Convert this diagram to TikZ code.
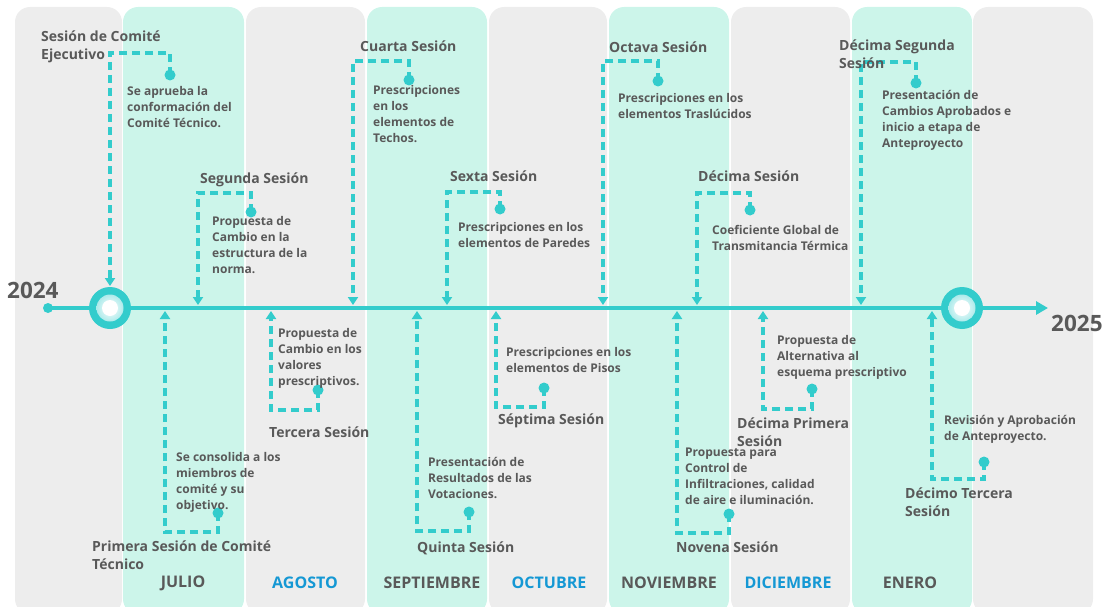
\documentclass[tikz,border=0pt]{standalone}
\usepackage{fontspec}
\setmainfont{Open Sans}
\usetikzlibrary{arrows.meta}

\definecolor{linea}{RGB}{51,204,204}
\definecolor{menta}{RGB}{204,245,234}
\definecolor{gris}{RGB}{237,237,237}
\definecolor{texto}{RGB}{89,89,89}
\definecolor{azul}{RGB}{21,152,212}

\tikzset{
  conector/.style={linea, line width=3.6pt, dash pattern=on 8pt off 5pt,
    -{Triangle[width=10pt,length=8pt]}},
  punto/.style={circle, fill=linea, minimum size=11pt, inner sep=0pt},
  titulo/.style={anchor=north west, inner sep=0pt, align=left, text=texto,
    font=\bfseries\fontsize{14}{17.5}\selectfont},
  detalle/.style={anchor=north west, inner sep=0pt, align=left, text=texto,
    font=\bfseries\fontsize{12}{16}\selectfont},
  mes/.style={inner sep=0pt, font=\bfseries\fontsize{16}{18}\selectfont},
  anio/.style={anchor=west, inner sep=0pt, text=texto,
    font=\bfseries\fontsize{22.5}{24}\selectfont},
}

\begin{document}
\begin{tikzpicture}[x=1pt,y=-1pt]
  \useasboundingbox (0,0) rectangle (1110,607);
  % columnas de meses
  \fill[gris,rounded corners=15pt] (15,7) rectangle (122,614);
  \fill[menta,rounded corners=15pt] (123,7) rectangle (244,614);
  \fill[gris,rounded corners=15pt] (246,7) rectangle (365,614);
  \fill[menta,rounded corners=15pt] (367,7) rectangle (487,614);
  \fill[gris,rounded corners=15pt] (489,7) rectangle (607,614);
  \fill[menta,rounded corners=15pt] (609,7) rectangle (729,614);
  \fill[gris,rounded corners=15pt] (731,7) rectangle (850,614);
  \fill[menta,rounded corners=15pt] (852,7) rectangle (972,614);
  \fill[gris,rounded corners=15pt] (973,7) rectangle (1093,614);

  % linea de tiempo
  \node[circle, fill=linea, minimum size=10pt, inner sep=0pt] (inicio) at (48,308) {};
  \coordinate (fin) at (1048,308);
  \draw[linea, line width=3.5pt, -{Triangle[width=13pt,length=12pt]}] (inicio.center) -- (fin);
  \fill[linea] (110,308) circle (21);
  \shade[inner color=white, outer color=linea!40] (110,308) circle (13.5);
  \fill[white] (110,308) circle (8);
  \fill[linea] (962,308) circle (21);
  \shade[inner color=white, outer color=linea!40] (962,308) circle (13.5);
  \fill[white] (962,308) circle (8);
  \node[anio] (a2024) at (7,290) {2024};
  \node[anio] (a2025) at (1051,323) {2025};

  % sesiones arriba
  \coordinate (s1) at (110,286);
  \node[punto] (p1) at (170,75) {};
  \draw[conector] (p1.center) -- ++(0,-22) -| (s1);
  \node[titulo] (t1) at (41,31) {Sesión de Comité\\Ejecutivo};
  \node[detalle] (d1) at (127,86) {Se aprueba la\\conformación del\\Comité Técnico.};

  \coordinate (s2) at (198,305);
  \node[punto] (p2) at (251,212) {};
  \draw[conector] (p2.center) -- ++(0,-19) -| (s2);
  \node[titulo] (t2) at (200,173) {Segunda Sesión};
  \node[detalle] (d2) at (212,216) {Propuesta de\\Cambio en la\\estructura de la\\norma.};

  \coordinate (s4) at (353,305);
  \node[punto] (p4) at (409,80) {};
  \draw[conector] (p4.center) -- ++(0,-19) -| (s4);
  \node[titulo] (t4) at (360,41) {Cuarta Sesión};
  \node[detalle] (d4) at (373,85) {Prescripciones\\en los\\elementos de\\Techos.};

  \coordinate (s6) at (447,305);
  \node[punto] (p6) at (500,209) {};
  \draw[conector] (p6.center) -- ++(0,-17) -| (s6);
  \node[titulo] (t6) at (450,171) {Sexta Sesión};
  \node[detalle] (d6) at (458,222) {Prescripciones en los\\elementos de Paredes};

  \coordinate (s8) at (603,305);
  \node[punto] (p8) at (658,81) {};
  \draw[conector] (p8.center) -- ++(0,-20) -| (s8);
  \node[titulo] (t8) at (609,42) {Octava Sesión};
  \node[detalle] (d8) at (618,93) {Prescripciones en los\\elementos Traslúcidos};

  \coordinate (s10) at (697,305);
  \node[punto] (p10) at (750,210) {};
  \draw[conector] (p10.center) -- ++(0,-17) -| (s10);
  \node[titulo] (t10) at (698,171) {Décima Sesión};
  \node[detalle] (d10) at (712,225) {Coeficiente Global de\\Transmitancia Térmica};

  \coordinate (s12) at (861,305);
  \node[punto] (p12) at (916,83) {};
  \draw[conector] (p12.center) -- ++(0,-21) -| (s12);
  \node[titulo] (t12) at (839,40) {Décima Segunda\\Sesión};
  \node[detalle] (d12) at (882,90) {Presentación de\\Cambios Aprobados e\\inicio a etapa de\\Anteproyecto};

  % sesiones abajo
  \coordinate (s3) at (165,311);
  \node[punto] (p3) at (218,513) {};
  \draw[conector] (p3.center) -- ++(0,19) -| (s3);
  \node[titulo] (t3) at (92,541) {Primera Sesión de Comité\\Técnico};
  \node[detalle] (d3) at (176,452) {Se consolida a los\\miembros de\\comité y su\\objetivo.};

  \coordinate (s5) at (271,311);
  \node[punto] (p5) at (318,390) {};
  \draw[conector] (p5.center) -- ++(0,20) -| (s5);
  \node[titulo] (t5) at (269,427) {Tercera Sesión};
  \node[detalle] (d5) at (278,328) {Propuesta de\\Cambio en los\\valores\\prescriptivos.};

  \coordinate (s7) at (417,311);
  \node[punto] (p7) at (469,512) {};
  \draw[conector] (p7.center) -- ++(0,19) -| (s7);
  \node[titulo] (t7) at (417,542) {Quinta Sesión};
  \node[detalle] (d7) at (428,457) {Presentación de\\Resultados de las\\Votaciones.};

  \coordinate (s9) at (496,311);
  \node[punto] (p9) at (544,388) {};
  \draw[conector] (p9.center) -- ++(0,19) -| (s9);
  \node[titulo] (t9) at (498,414) {Séptima Sesión};
  \node[detalle] (d9) at (506,347) {Prescripciones en los\\elementos de Pisos};

  \coordinate (s11) at (677,311);
  \node[punto] (p11) at (729,514) {};
  \draw[conector] (p11.center) -- ++(0,19) -| (s11);
  \node[titulo] (t11) at (676,542) {Novena Sesión};
  \node[detalle] (d11) at (685,448) {Propuesta para\\Control de\\Infiltraciones, calidad\\de aire e iluminación.};

  \coordinate (s13) at (763,311);
  \node[punto] (p13) at (812,389) {};
  \draw[conector] (p13.center) -- ++(0,20) -| (s13);
  \node[titulo] (t13) at (737,418) {Décima Primera\\Sesión};
  \node[detalle] (d13) at (777,335) {Propuesta de\\Alternativa al\\esquema prescriptivo};

  \coordinate (s14) at (932,311);
  \node[punto] (p14) at (984,462) {};
  \draw[conector] (p14.center) -- ++(0,17) -| (s14);
  \node[titulo] (t14) at (905,488) {Décimo Tercera\\Sesión};
  \node[detalle] (d14) at (944,415) {Revisión y Aprobación\\de Anteproyecto.};

  % meses
  \node[mes, text=texto] (julio) at (183,583) {JULIO};
  \node[mes, text=azul] (agosto) at (305,583) {AGOSTO};
  \node[mes, text=texto] (septiembre) at (432,583) {SEPTIEMBRE};
  \node[mes, text=azul] (octubre) at (549,583) {OCTUBRE};
  \node[mes, text=texto] (noviembre) at (669,583) {NOVIEMBRE};
  \node[mes, text=azul] (diciembre) at (788,583) {DICIEMBRE};
  \node[mes, text=texto] (enero) at (910,583) {ENERO};
\end{tikzpicture}
\end{document}
